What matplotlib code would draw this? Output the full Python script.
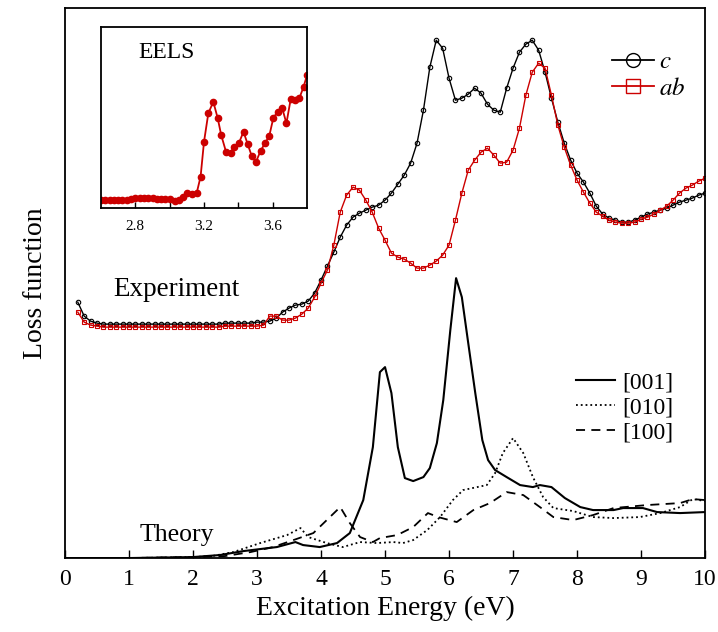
import numpy as np
import matplotlib.pyplot as plt
from matplotlib.lines import Line2D

plt.rcParams['font.family'] = ['Liberation Serif', 'DejaVu Serif']
plt.rcParams['mathtext.fontset'] = 'stix'

# experiment (EELS), polarisation c and ab
exp_x = [round(0.2 + 0.1 * i, 1) for i in range(99)]
exp_c = [2.56, 2.42, 2.37, 2.35, 2.34, 2.34, 2.34, 2.34, 2.34, 2.34,
         2.34, 2.34, 2.34, 2.34, 2.34, 2.34, 2.34, 2.34, 2.34, 2.34,
         2.34, 2.34, 2.34, 2.35, 2.35, 2.35, 2.35, 2.35, 2.36, 2.36,
         2.37, 2.40, 2.46, 2.50, 2.53, 2.54, 2.57, 2.65, 2.78, 2.92,
         3.06, 3.21, 3.33, 3.41, 3.45, 3.48, 3.51, 3.53, 3.58, 3.65,
         3.74, 3.83, 3.95, 4.15, 4.48, 4.91, 5.18, 5.10, 4.80, 4.58,
         4.60, 4.64, 4.70, 4.65, 4.54, 4.48, 4.46, 4.70, 4.90, 5.06,
         5.14, 5.18, 5.08, 4.86, 4.60, 4.36, 4.15, 3.98, 3.85, 3.76,
         3.65, 3.52, 3.44, 3.40, 3.38, 3.36, 3.36, 3.38, 3.41, 3.44,
         3.46, 3.48, 3.50, 3.53, 3.56, 3.58, 3.60, 3.63, 3.65]
exp_ab = [2.46, 2.36, 2.33, 2.32, 2.31, 2.31, 2.31, 2.31, 2.31, 2.31,
          2.31, 2.31, 2.31, 2.31, 2.31, 2.31, 2.31, 2.31, 2.31, 2.31,
          2.31, 2.31, 2.31, 2.32, 2.32, 2.32, 2.32, 2.32, 2.32, 2.33,
          2.42, 2.42, 2.38, 2.38, 2.40, 2.44, 2.50, 2.61, 2.75, 2.88,
          3.13, 3.46, 3.63, 3.71, 3.68, 3.58, 3.46, 3.30, 3.18, 3.05,
          3.01, 2.99, 2.95, 2.90, 2.90, 2.93, 2.97, 3.03, 3.13, 3.38,
          3.65, 3.88, 3.98, 4.06, 4.10, 4.03, 3.95, 3.96, 4.08, 4.30,
          4.63, 4.86, 4.95, 4.90, 4.63, 4.33, 4.11, 3.93, 3.78, 3.66,
          3.55, 3.46, 3.42, 3.38, 3.36, 3.35, 3.35, 3.36, 3.39, 3.41,
          3.44, 3.48, 3.52, 3.58, 3.65, 3.70, 3.73, 3.77, 3.80]

# theory
t001_x = [0.0, 1.0, 2.0, 2.42, 2.79, 3.31, 3.6, 3.72, 3.98, 4.25, 4.45, 4.66,
          4.81, 4.92, 5.0, 5.1, 5.2, 5.31, 5.44, 5.6, 5.7, 5.81, 5.91, 6.02,
          6.11, 6.2, 6.3, 6.41, 6.52, 6.61, 6.72, 6.9, 7.11, 7.31, 7.42, 7.6,
          7.81, 8.05, 8.25, 8.57, 8.72, 9.03, 9.25, 9.61, 10.0]
t001_y = [0.0, 0.0, 0.01, 0.03, 0.07, 0.11, 0.16, 0.13, 0.11, 0.15, 0.25, 0.58,
          1.11, 1.86, 1.91, 1.65, 1.11, 0.80, 0.77, 0.81, 0.90, 1.15, 1.58, 2.28,
          2.80, 2.61, 2.15, 1.65, 1.18, 0.98, 0.88, 0.81, 0.73, 0.71, 0.73, 0.71,
          0.60, 0.51, 0.48, 0.48, 0.50, 0.50, 0.46, 0.45, 0.46]
t010_x = [0.0, 1.0, 2.0, 2.3, 2.63, 3.05, 3.47, 3.68, 3.8, 4.09, 4.34, 4.61,
          4.87, 5.13, 5.28, 5.44, 5.66, 5.86, 6.06, 6.22, 6.44, 6.59, 6.72,
          6.84, 7.0, 7.16, 7.31, 7.47, 7.63, 7.94, 8.25, 8.57, 8.98, 9.3, 9.61,
          9.81, 10.0]
t010_y = [0.0, 0.0, 0.01, 0.02, 0.06, 0.15, 0.23, 0.30, 0.21, 0.15, 0.11, 0.16,
          0.15, 0.16, 0.15, 0.18, 0.28, 0.41, 0.58, 0.68, 0.71, 0.73, 0.85,
          1.05, 1.20, 1.05, 0.81, 0.61, 0.50, 0.47, 0.41, 0.40, 0.41, 0.45, 0.51,
          0.59, 0.57]
t100_x = [0.0, 1.0, 2.0, 2.5, 2.9, 3.25, 3.57, 3.88, 4.09, 4.3, 4.45, 4.61,
          4.81, 4.92, 5.19, 5.44, 5.67, 5.83, 6.12, 6.38, 6.64, 6.9, 7.16,
          7.42, 7.63, 7.94, 8.25, 8.57, 9.09, 9.61, 9.81, 10.0]
t100_y = [0.0, 0.0, 0.01, 0.02, 0.06, 0.11, 0.18, 0.25, 0.38, 0.51, 0.35, 0.21,
          0.16, 0.20, 0.23, 0.31, 0.45, 0.41, 0.36, 0.48, 0.55, 0.66, 0.63,
          0.51, 0.41, 0.38, 0.43, 0.50, 0.53, 0.55, 0.59, 0.58]

# inset: low-energy onset of ab spectrum
eels_x = [2.600, 2.625, 2.650, 2.675, 2.700, 2.725, 2.750, 2.775, 2.800, 2.825,
          2.850, 2.875, 2.900, 2.925, 2.950, 2.975, 3.000, 3.030, 3.056, 3.080,
          3.100, 3.128, 3.157, 3.180, 3.200, 3.225, 3.254, 3.280, 3.300, 3.328,
          3.355, 3.377, 3.404, 3.430, 3.454, 3.478, 3.503, 3.530, 3.555, 3.580,
          3.604, 3.629, 3.656, 3.680, 3.705, 3.730, 3.755, 3.780, 3.800]
eels_y = [0.80, 0.80, 0.80, 0.80, 0.80, 0.82, 0.84, 0.86, 0.95, 0.95,
          0.95, 0.95, 0.95, 0.93, 0.90, 0.88, 0.85, 0.70, 0.80, 1.13,
          1.47, 1.40, 1.47, 3.13, 6.63, 9.47, 10.63, 8.97, 7.30, 5.63,
          5.53, 6.13, 6.53, 7.63, 6.40, 5.20, 4.63, 5.73, 6.47, 7.20,
          9.03, 9.63, 9.97, 8.47, 10.90, 10.80, 10.97, 12.13, 13.30]

red = '#cc0000'

fig = plt.figure(figsize=(7.18, 6.32), dpi=100)
ax = fig.add_axes([0.0905, 0.117, 0.8915, 0.870])

ax.plot(exp_x, exp_c, '-o', color='black', lw=1.0, ms=3.2, mfc='none', mew=0.8)
ax.plot(exp_x, exp_ab, '-s', color=red, lw=1.0, ms=3.2, mfc='none', mew=0.8)
ax.plot(t001_x, t001_y, '-', color='black', lw=1.5)
ax.plot(t010_x, t010_y, ':', color='black', lw=1.3)
ax.plot(t100_x, t100_y, '--', color='black', lw=1.3, dashes=(5, 3.5))

ax.set_xlim(0, 10)
ax.set_ylim(0, 5.5)
ax.set_xticks(range(11))
ax.set_yticks([])
ax.tick_params(axis='x', direction='in', length=6, width=1, labelsize=17, pad=8)
for s in ax.spines.values():
    s.set_linewidth(1.3)
ax.set_xlabel('Excitation Energy (eV)', fontsize=20, labelpad=4)
ax.set_ylabel('Loss function', fontsize=20, labelpad=12)

ax.text(0.75, 2.62, 'Experiment', fontsize=19.5)
ax.text(1.17, 0.17, 'Theory', fontsize=18.5)

h1 = [Line2D([], [], color='black', marker='o', ms=10, mfc='none', lw=1.3),
      Line2D([], [], color=red, marker='s', ms=10, mfc='none', lw=1.3)]
leg1 = ax.legend(h1, ['$c$', '$ab$'], loc='upper left', bbox_to_anchor=(0.835, 0.945),
                 frameon=False, fontsize=18, handlelength=1.7, handletextpad=0.2,
                 labelspacing=0.15, borderpad=0)
ax.add_artist(leg1)

h2 = [Line2D([], [], color='black', ls='-', lw=1.5),
      Line2D([], [], color='black', ls=':', lw=1.3),
      Line2D([], [], color='black', ls='--', lw=1.3, dashes=(5, 3.5))]
ax.legend(h2, ['[001]', '[010]', '[100]'], loc='upper left', bbox_to_anchor=(0.78, 0.36),
          frameon=False, fontsize=17, handlelength=1.65, handletextpad=0.3,
          labelspacing=0.15, borderpad=0)

ins = fig.add_axes([0.1407, 0.671, 0.2869, 0.286])
ins.plot(eels_x, eels_y, '-o', color=red, lw=1.3, ms=4.5)
ins.set_xlim(2.6, 3.8)
ins.set_ylim(0, 18.1)
ins.set_xticks([2.8, 3.0, 3.2, 3.4, 3.6])
ins.set_xticklabels(['2.8', '', '3.2', '', '3.6'])
ins.set_yticks([])
ins.tick_params(axis='x', direction='in', length=4, width=1, labelsize=11, pad=9)
for s in ins.spines.values():
    s.set_linewidth(1.3)
ins.text(0.18, 0.83, 'EELS', transform=ins.transAxes, fontsize=17)

fig.savefig('out.png', dpi=100)
